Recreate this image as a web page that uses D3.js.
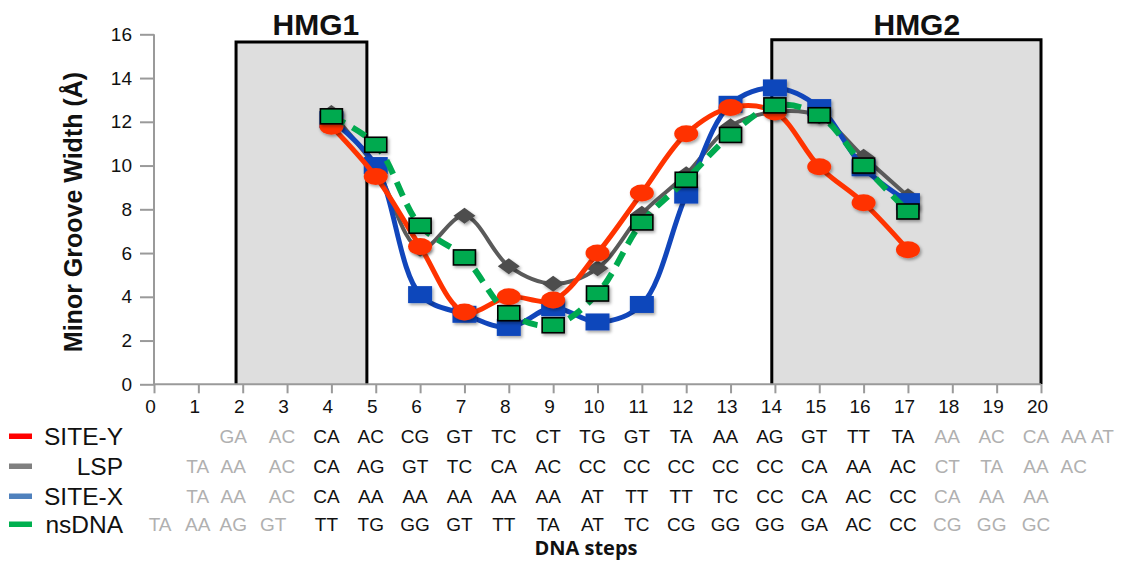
<!DOCTYPE html>
<html>
<head>
<meta charset="utf-8">
<script src="https://cdn.jsdelivr.net/npm/d3@7"></script>
<style>
  body { margin: 0; background: #fff; }
  svg { display: block; font-family: "Liberation Sans", Arial, sans-serif; }
</style>
</head>
<body>
<div id="chart"></div>
<script>
// DNA steps with a measured minor groove width
var steps = [4, 5, 6, 7, 8, 9, 10, 11, 12, 13, 14, 15, 16, 17];

var siteY = [11.8, 9.5, 6.3, 3.3, 4.0, 3.85, 6.0, 8.75, 11.45, 12.65, 12.45, 9.95, 8.3, 6.15];
var lsp   = [12.4, 9.9, 6.2, 7.7, 5.4, 4.6, 5.3, 7.8, 9.6, 11.8, 12.45, 12.25, 10.4, 8.6];
var siteX = [12.1, 10.0, 4.1, 3.2, 2.6, 3.5, 2.85, 3.65, 8.65, 12.8, 13.55, 12.65, 9.9, 8.35];
var nsDNA = [12.25, 10.95, 7.25, 5.8, 3.25, 2.7, 4.15, 7.4, 9.35, 11.4, 12.75, 12.3, 10.0, 7.9];

var xTicks = d3.range(0, 21);
var yTicks = [0, 2, 4, 6, 8, 10, 12, 14, 16];

// HMG binding regions (in step / width units)
var hmgNames = ["HMG1", "HMG2"];
var hmgStart = [1.85, 13.93];
var hmgEnd   = [4.8, 20];
var hmgTop   = [15.65, 15.75];
var hmgLabelAt = [3.65, 17.2];

// sequences under the axis
var seqSiteY = ["GA","AC","CA","AC","CG","GT","TC","CT","TG","GT","TA","AA","AG","GT","TT","TA","AA","AC","CA","AA","AT"];
var posSiteY = [1.9, 3, 4, 5, 6, 7, 8, 9, 10, 11, 12, 13, 14, 15, 16, 17, 18, 19, 20, 20.85, 21.5];
var seqLsp   = ["TA","AA","AC","CA","AG","GT","TC","CA","AC","CC","CC","CC","CC","CC","CA","AA","AC","CT","TA","AA","AC"];
var posLsp   = [1.1, 1.9, 3, 4, 5, 6, 7, 8, 9, 10, 11, 12, 13, 14, 15, 16, 17, 18, 19, 20, 20.85];
var seqSiteX = ["TA","AA","AC","CA","AA","AA","AA","AA","AA","AT","TT","TT","TC","CC","CA","AC","CC","CA","AA","AA"];
var posSiteX = [1.1, 1.9, 3, 4, 5, 6, 7, 8, 9, 10, 11, 12, 13, 14, 15, 16, 17, 18, 19, 20];
var seqNs    = ["TA","AA","AG","GT","TT","TG","GG","GT","TT","TA","AT","TC","CG","GG","GG","GA","AC","CC","CG","GG","GC"];
var posNs    = [0.25, 1.1, 1.9, 2.8, 4, 5, 6, 7, 8, 9, 10, 11, 12, 13, 14, 15, 16, 17, 18, 19, 20];

var width = 1121, height = 561;

var svg = d3.select("#chart").append("svg")
    .attr("width", width)
    .attr("height", height);

var defs = svg.append("defs");
var shadow = defs.append("filter").attr("id", "shadow")
    .attr("x", "-50%").attr("y", "-50%").attr("width", "200%").attr("height", "200%");
shadow.append("feDropShadow")
    .attr("dx", 1.5).attr("dy", 2).attr("stdDeviation", 1.5)
    .attr("flood-color", "#000").attr("flood-opacity", 0.35);

var x = d3.scaleLinear().domain([0, 20]).range([154, 1041]);
var y = d3.scaleLinear().domain([0, 16]).range([384.3, 34.3]);

// HMG boxes
hmgNames.forEach(function(name, i) {
    var x0 = x(hmgStart[i]), x1 = x(hmgEnd[i]), yt = y(hmgTop[i]), yb = y(0);
    svg.append("rect")
        .attr("x", x0).attr("y", yt)
        .attr("width", x1 - x0).attr("height", yb - yt)
        .attr("fill", "#dedede");
    svg.append("path")
        .attr("d", "M" + x0 + "," + yb + "V" + yt + "H" + x1 + "V" + yb)
        .attr("fill", "none")
        .attr("stroke", "#000")
        .attr("stroke-width", 3);
    svg.append("text")
        .attr("x", x(hmgLabelAt[i]))
        .attr("y", 35)
        .attr("text-anchor", "middle")
        .attr("font-size", 30)
        .attr("font-weight", "bold")
        .attr("fill", "#111")
        .text(name);
});

// axes
var axisColor = "#9a9a9a";
var yAxis = svg.append("g")
    .attr("transform", "translate(" + x(0) + ",0)")
    .call(d3.axisLeft(y).tickValues(yTicks).tickSize(14).tickPadding(8));
var xAxis = svg.append("g")
    .attr("transform", "translate(0," + y(0) + ")")
    .call(d3.axisBottom(x).tickValues(xTicks).tickSize(9).tickPadding(6));

[xAxis, yAxis].forEach(function(g) {
    g.select(".domain").attr("stroke", axisColor).attr("stroke-width", 2);
    g.selectAll(".tick line").attr("stroke", axisColor).attr("stroke-width", 2);
    g.selectAll(".tick text")
        .attr("fill", "#111")
        .attr("font-size", 19)
        .attr("font-family", "Liberation Sans, Arial, sans-serif");
});
yAxis.select(".domain").attr("d", "M0," + y(16) + "V" + y(0));
xAxis.select(".domain").attr("d", "M" + x(0) + ",0H" + x(20));
xAxis.selectAll(".tick text").attr("dx", -4);

svg.append("text")
    .attr("transform", "translate(82,212) rotate(-90)")
    .attr("text-anchor", "middle")
    .attr("font-size", 25)
    .attr("font-weight", "bold")
    .attr("fill", "#111")
    .text("Minor Groove Width (Å)");

// series
var line = d3.line()
    .x(function(d) { return x(d[0]); })
    .y(function(d) { return y(d[1]); })
    .curve(d3.curveCatmullRom.alpha(0.5));

function pairs(vals) {
    return steps.map(function(s, i) { return [s, vals[i]]; });
}

function drawSeries(vals, color, lineWidth, dash, marker) {
    var g = svg.append("g");
    g.append("path")
        .attr("d", line(pairs(vals)))
        .attr("fill", "none")
        .attr("stroke", color)
        .attr("stroke-width", lineWidth)
        .attr("stroke-dasharray", dash)
        .attr("stroke-linecap", "butt");
    var m = g.selectAll(".m").data(pairs(vals)).enter();
    marker(m);
}

// LSP - grey diamonds
drawSeries(lsp, "#5a5a5a", 4, null, function(m) {
    m.append("path")
        .attr("d", function(d) {
            var cx = x(d[0]), cy = y(d[1]);
            return "M" + (cx - 11) + "," + cy + "L" + cx + "," + (cy - 8) +
                "L" + (cx + 11) + "," + cy + "L" + cx + "," + (cy + 8) + "Z";
        })
        .attr("fill", "#4d4d4d")
        .attr("filter", "url(#shadow)");
});

// SITE-X - blue squares
drawSeries(siteX, "#1146bb", 5, null, function(m) {
    m.append("rect")
        .attr("x", function(d) { return x(d[0]) - 12; })
        .attr("y", function(d) { return y(d[1]) - 8.5; })
        .attr("width", 24).attr("height", 17)
        .attr("fill", "#1146bb")
        .attr("filter", "url(#shadow)");
});

// SITE-Y - red ellipses
drawSeries(siteY, "#ff3300", 5, null, function(m) {
    m.append("ellipse")
        .attr("cx", function(d) { return x(d[0]); })
        .attr("cy", function(d) { return y(d[1]); })
        .attr("rx", 12).attr("ry", 8.5)
        .attr("fill", "#ff3300")
        .attr("filter", "url(#shadow)");
});

// nsDNA - green squares, dashed
drawSeries(nsDNA, "#00aa4f", 6, "15,9", function(m) {
    m.append("rect")
        .attr("x", function(d) { return x(d[0]) - 11; })
        .attr("y", function(d) { return y(d[1]) - 7.5; })
        .attr("width", 22).attr("height", 15)
        .attr("fill", "#00aa4f")
        .attr("stroke", "#000")
        .attr("stroke-width", 1.6)
        .attr("filter", "url(#shadow)");
});

// legend + sequences
var rowNames  = ["SITE-Y", "LSP", "SITE-X", "nsDNA"];
var rowColors = ["#ff0000", "#808080", "#4f81bd", "#00b050"];
var rowSeqs   = [seqSiteY, seqLsp, seqSiteX, seqNs];
var rowPos    = [posSiteY, posLsp, posSiteX, posNs];
var rowY      = [436, 466, 496, 524];

rowNames.forEach(function(name, i) {
    var cy = rowY[i];
    svg.append("rect")
        .attr("x", 9).attr("y", cy - 2.5)
        .attr("width", 23).attr("height", 5.5)
        .attr("fill", rowColors[i]);
    svg.append("text")
        .attr("x", 123).attr("y", cy)
        .attr("dy", "0.36em")
        .attr("text-anchor", "end")
        .attr("font-size", 24.5)
        .attr("fill", "#111")
        .text(name);
    svg.append("g").selectAll("text")
        .data(rowSeqs[i].map(function(s, j) { return [s, rowPos[i][j]]; }))
        .enter().append("text")
        .attr("x", function(d) { return x(d[1]) - 5; })
        .attr("y", cy)
        .attr("dy", "0.36em")
        .attr("text-anchor", "middle")
        .attr("font-size", 19)
        .attr("fill", function(d) { return (d[1] >= 4 && d[1] <= 17) ? "#111" : "#b0b0b0"; })
        .text(function(d) { return d[0]; });
});

svg.append("text")
    .attr("x", 586).attr("y", 555)
    .attr("text-anchor", "middle")
    .attr("font-size", 20)
    .attr("font-weight", "bold")
    .attr("font-family", "Open Sans, sans-serif")
    .attr("fill", "#111")
    .text("DNA steps");
</script>
</body>
</html>
